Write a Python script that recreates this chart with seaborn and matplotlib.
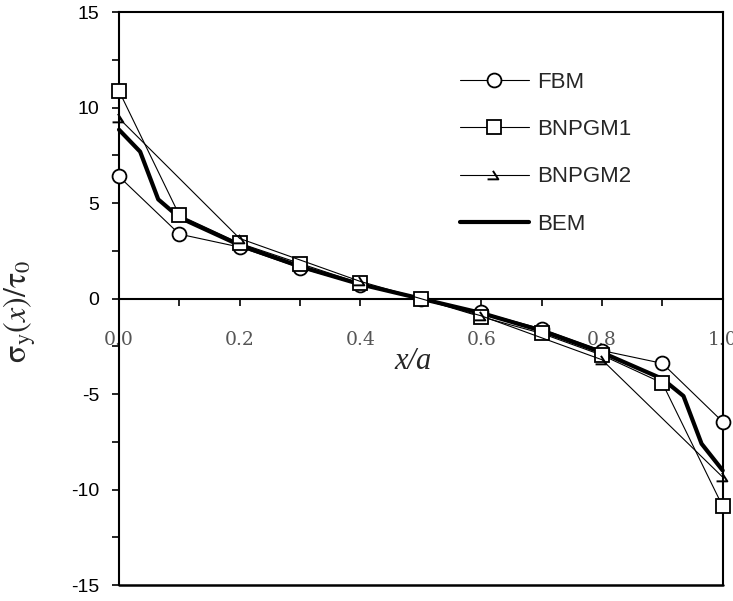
import matplotlib
matplotlib.use("Agg")
import matplotlib.pyplot as plt
import seaborn as sns
import numpy as np
from matplotlib.path import Path
from matplotlib.ticker import MultipleLocator

# ---- data ----
x_fbm = [0.0, 0.1, 0.2, 0.3, 0.4, 0.5, 0.6, 0.7, 0.8, 0.9, 1.0]
y_fbm = [6.4, 3.38, 2.7, 1.62, 0.72, 0.0, -0.72, -1.58, -2.72, -3.39, -6.45]

x_bn1 = [0.0, 0.1, 0.2, 0.3, 0.4, 0.5, 0.6, 0.7, 0.8, 0.9, 1.0]
y_bn1 = [10.88, 4.37, 2.9, 1.84, 0.8, 0.0, -0.95, -1.82, -2.96, -4.42, -10.88]

x_bn2 = [0.0, 0.2, 0.4, 0.6, 0.8, 1.0]
y_bn2 = [9.45, 3.15, 0.9, -0.9, -3.2, -9.35]

x_bem = [0.0, 0.035, 0.065, 0.1, 0.2, 0.3, 0.4, 0.5, 0.6, 0.7, 0.8, 0.9, 0.935, 0.965, 1.0]
y_bem = [8.85, 7.7, 5.2, 4.25, 2.8, 1.68, 0.75, 0.0, -0.75, -1.68, -2.82, -4.2, -5.1, -7.6, -9.0]

labels = ["FBM", "BNPGM1", "BNPGM2", "BEM"]
x_ticks = [0.0, 0.2, 0.4, 0.6, 0.8, 1.0]
x_ticklabels = ["0.0", "0.2", "0.4", "0.6", "0.8", "1.0"]
y_ticks = [-15, -10, -5, 0, 5, 10, 15]

sns.set_style("white")
plt.rcParams["font.family"] = ["Liberation Sans", "DejaVu Sans"]
plt.rcParams["mathtext.fontset"] = "stix"

fig = plt.figure(figsize=(7.33, 6.01), dpi=100)
ax = fig.add_axes([119 / 733, 1 - 585 / 601, (722.7 - 119) / 733, (585 - 12.3) / 601])

# custom open-triangle-like marker for BNPGM2
tri_open = Path([(-0.9, -0.5), (0.5, -0.5), (-0.2, 0.6)],
                [Path.MOVETO, Path.LINETO, Path.LINETO])

common = dict(ax=ax, color="black", sort=False, clip_on=False)
sns.lineplot(x=x_fbm, y=y_fbm, lw=0.8, label=labels[0],
             marker="o", markersize=10, markerfacecolor="white",
             markeredgecolor="black", markeredgewidth=1.3, zorder=4, **common)
sns.lineplot(x=x_bn1, y=y_bn1, lw=0.8, label=labels[1],
             marker="s", markersize=9.5, markerfacecolor="white",
             markeredgecolor="black", markeredgewidth=1.3, zorder=4, **common)
sns.lineplot(x=x_bn2, y=y_bn2, lw=0.8, label=labels[2],
             marker=tri_open, markersize=10, markerfacecolor="none",
             markeredgecolor="black", markeredgewidth=1.4, zorder=4, **common)
sns.lineplot(x=x_bem, y=y_bem, lw=3.0, label=labels[3], zorder=3, **common)

ax.set_xlim(0, 1.0)
ax.set_ylim(-15, 15)

# spines: box frame, bottom axis through zero
for s in ["top", "right", "left"]:
    ax.spines[s].set_color("black")
    ax.spines[s].set_linewidth(1.5)
ax.spines["bottom"].set_position(("data", 0))
ax.spines["bottom"].set_color("black")
ax.spines["bottom"].set_linewidth(1.5)
ax.axhline(-15, color="black", lw=1.8, clip_on=False, zorder=5)

ax.set_yticks(y_ticks)
ax.set_yticklabels([str(v) for v in y_ticks])
ax.yaxis.set_minor_locator(MultipleLocator(2.5))
ax.set_xticks(x_ticks)
ax.set_xticklabels(x_ticklabels)
ax.xaxis.set_minor_locator(MultipleLocator(0.1))

ax.tick_params(axis="y", which="both", direction="out", length=5, width=1.2,
               left=True, pad=9, labelsize=14, colors="black")
ax.tick_params(axis="x", which="both", direction="out", length=5, width=1.2,
               bottom=True, pad=18, labelsize=13.5, labelcolor="#555555", color="black")
for t in ax.get_xticklabels():
    t.set_family(["DejaVu Serif"])

ax.set_xlabel("x/a", fontsize=22, fontstyle="italic", family=["Liberation Serif"])
ax.xaxis.set_label_coords(0.487, 0.415)
ax.set_ylabel(r"$\mathrm{\sigma}_{\mathrm{y}}(x)/\mathrm{\tau}_0$", fontsize=23)
ax.yaxis.set_label_coords(-0.135, 0.478)

leg = ax.legend(loc="upper left", bbox_to_anchor=(460 / 733, 1 - 72 / 601),
                bbox_transform=fig.transFigure, frameon=False, fontsize=16,
                handlelength=3.1, handletextpad=0.35, labelspacing=1.18,
                borderpad=0, borderaxespad=0)

fig.savefig("out.png", dpi=100)
